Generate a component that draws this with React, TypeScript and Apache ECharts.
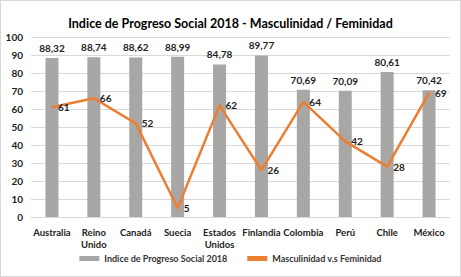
import React, { useEffect, useRef } from "react";
import * as echarts from "echarts";

const categories = ["Australia", "Reino\nUnido", "Canadá", "Suecia", "Estados\nUnidos", "Finlandia", "Colombia", "Perú", "Chile", "México"];
const ipsValues = [88.32, 88.74, 88.62, 88.99, 84.78, 89.77, 70.69, 70.09, 80.61, 70.42];
const mfValues = [61, 66, 52, 5, 62, 26, 64, 42, 28, 69];
const yTicks = { min: 0, max: 100, interval: 10 };

const FONT = "Lato, 'Open Sans', sans-serif";

export default function App() {
  const ref = useRef<HTMLDivElement>(null);
  useEffect(() => {
    if (!ref.current) return;
    const chart = echarts.init(ref.current, null, { renderer: "svg" });
    chart.setOption({
      animation: false,
      backgroundColor: "#fff",
      textStyle: { fontFamily: FONT },
      title: {
        text: "Indice de Progreso Social 2018 - Masculinidad / Feminidad",
        left: "center",
        top: 11,
        textStyle: { fontFamily: FONT, fontSize: 12.5, fontWeight: "bold", color: "#000" },
      },
      grid: { left: 30, right: 10, top: 36, bottom: 59 },
      legend: {
        bottom: 8,
        left: "center",
        itemGap: 20,
        itemWidth: 20,
        itemHeight: 5,
        textStyle: { fontFamily: FONT, fontSize: 9, fontWeight: "bold", color: "#333" },
        data: [
          { name: "Indice de Progreso Social 2018", icon: "rect" },
          { name: "Masculinidad v.s Feminidad", icon: "rect", itemStyle: { color: "#ED7D31", opacity: 1 } },
        ],
      },
      xAxis: {
        type: "category",
        data: categories,
        axisLine: { lineStyle: { color: "#D9D9D9", width: 1 } },
        axisTick: { show: false },
        axisLabel: { fontFamily: FONT, fontSize: 9.5, fontWeight: "bold", color: "#222", interval: 0, lineHeight: 12, margin: 9 },
      },
      yAxis: {
        type: "value",
        min: yTicks.min,
        max: yTicks.max,
        interval: yTicks.interval,
        axisLine: { show: false },
        axisTick: { show: false },
        splitLine: { lineStyle: { color: "#D9D9D9", width: 1 } },
        axisLabel: { fontFamily: FONT, fontSize: 10, fontWeight: "bold", color: "#222", margin: 8 },
      },
      series: [
        {
          name: "Indice de Progreso Social 2018",
          type: "bar",
          data: ipsValues,
          barWidth: 13,
          itemStyle: { color: "#A9A6A6" },
          label: {
            show: true,
            position: "top",
            distance: 5,
            fontFamily: FONT,
            fontSize: 10,
            fontWeight: "bold",
            color: "#222",
            formatter: (p: any) => p.value.toFixed(2).replace(".", ","),
          },
        },
        {
          name: "Masculinidad v.s Feminidad",
          type: "line",
          data: mfValues,
          symbol: "circle",
          symbolSize: 2,
          showSymbol: true,
          lineStyle: { color: "#ED7D31", width: 2.5 },
          itemStyle: { color: "#ED7D31" },
          label: {
            show: true,
            position: "right",
            distance: 5,
            fontFamily: FONT,
            fontSize: 10,
            fontWeight: "bold",
            color: "#222",
          },
        },
      ],
    });
    return () => chart.dispose();
  }, []);
  return (
    <div
      ref={ref}
      style={{
        position: "fixed",
        left: 0,
        top: 0,
        width: 459,
        height: 275,
        border: "1px solid #D9D9D9",
        background: "#fff",
      }}
    />
  );
}
